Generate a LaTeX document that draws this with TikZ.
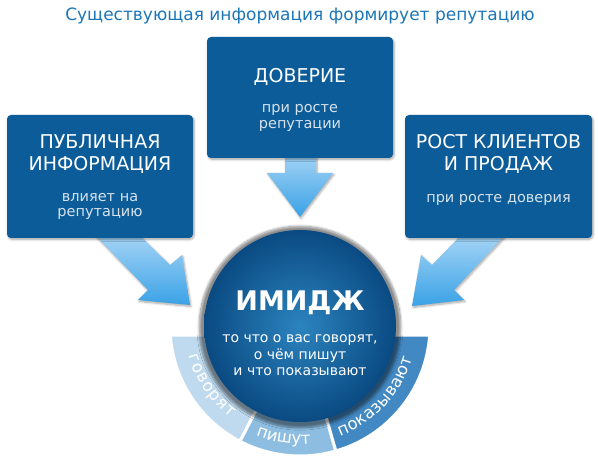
\documentclass[tikz,border=0pt]{standalone}
\usepackage{fontspec}
\setmainfont{DejaVu Sans}
\usetikzlibrary{shadows.blur,decorations.text}
\definecolor{titleblue}{HTML}{1B76B8}
\definecolor{boxblue}{HTML}{0B5C99}
\definecolor{subgray}{HTML}{D6E2EC}
\definecolor{arrowtop}{HTML}{A9D6F6}
\definecolor{arrowbot}{HTML}{3AA2E6}
\definecolor{circmid}{HTML}{2C84BF}
\definecolor{circedge}{HTML}{0A4A82}
\definecolor{segone}{HTML}{BFDAEE}
\definecolor{segtwo}{HTML}{8DBEE2}
\definecolor{segthree}{HTML}{4289C3}
\tikzset{
  softshadow/.style={blur shadow={shadow xshift=1pt,shadow yshift=-1.5pt,shadow blur steps=6,shadow opacity=35}},
  infobox/.style={draw=none,fill=boxblue,rounded corners=4pt,softshadow},
  headtext/.style={text=white,align=center,font=\fontsize{19}{22}\selectfont},
  subtext/.style={text=subgray,align=center,font=\fontsize{14.5}{15.5}\selectfont},
  arrowfill/.style={top color=arrowtop,bottom color=arrowbot,softshadow},
  segpath/.style={draw=white,line width=3pt,line join=miter},
  segword/.style={decorate,decoration={text along path,text align=fit to path,text color=white,text={|\fontsize{16.5}{16.5}\selectfont|#1}}}
}
\begin{document}
\begin{tikzpicture}[x=1pt,y=1pt]
\useasboundingbox (0,0) rectangle (598,-470);
% title
\node[text=titleblue,font=\fontsize{17}{17}\selectfont] (title) at (300,-16) {Существующая информация формирует репутацию};
% arrows
\shade[arrowfill] (92,-232) -- (136,-232) -- (170,-265) -- (182,-255) -- (190,-305) -- (138,-300) -- (148,-290) -- cycle;
\shade[arrowfill] (508,-232) -- (464,-232) -- (432,-265) -- (421,-255) -- (412,-306) -- (464,-300) -- (454,-290) -- cycle;
\shade[arrowfill] (285,-150) -- (316,-150) -- (316,-173) -- (333,-173) -- (300,-217) -- (267,-173) -- (285,-173) -- cycle;
% boxes
\node[infobox,minimum width=186,minimum height=123] (leftbox) at (100,-176.5) {};
\node[infobox,minimum width=186,minimum height=121] (midbox) at (300,-97.5) {};
\node[infobox,minimum width=187,minimum height=123] (rightbox) at (498.5,-176.5) {};
\node[headtext] (lefthead) at (100,-154) {ПУБЛИЧНАЯ\\ИНФОРМАЦИЯ};
\node[subtext] (leftsub) at (100,-206.5) {влияет на\\репутацию};
\node[headtext] (midhead) at (300,-77) {ДОВЕРИЕ};
\node[subtext] (midsub) at (300,-118) {при росте\\репутации};
\node[headtext] (righthead) at (498.5,-154) {РОСТ КЛИЕНТОВ\\И ПРОДАЖ};
\node[subtext] (rightsub) at (498.5,-200) {при росте доверия};
% ring
\begin{scope}[shift={(300,-326)}]
\filldraw[segpath,fill=segone] (184:130) arc (184:242.5:130) -- (242.5:80) -- (-80,-9) -- cycle;
\filldraw[segpath,fill=segtwo] (242.5:130) arc (242.5:286:130) -- (286:80) -- (242.5:80) -- cycle;
\filldraw[segpath,fill=segthree] (286:130) arc (286:356:130) -- (80,-9) -- (286:80) -- cycle;
\path[segword={говорят}] (195:115) arc (195:233:115);
\path[segword={пишут}] (248:118) arc (248:275:118);
\path[segword={показывают}] (290:117) arc (290:344:117);
\end{scope}
% circle
\node[circle,minimum size=192,inner sep=0pt,inner color=circmid,outer color=circedge,blur shadow={shadow xshift=0pt,shadow yshift=-1pt,shadow scale=1.05,shadow blur steps=8,shadow opacity=45}] (image) at (300,-326) {};
\node[text=white,font=\fontsize{27}{27}\selectfont\bfseries] (imagehead) at (300,-303) {ИМИДЖ};
\node[text=white,align=center,font=\fontsize{14}{16.5}\selectfont] (imagesub) at (300,-355.5) {то что о вас говорят,\\о чём пишут\\и что показывают};
\end{tikzpicture}
\end{document}
